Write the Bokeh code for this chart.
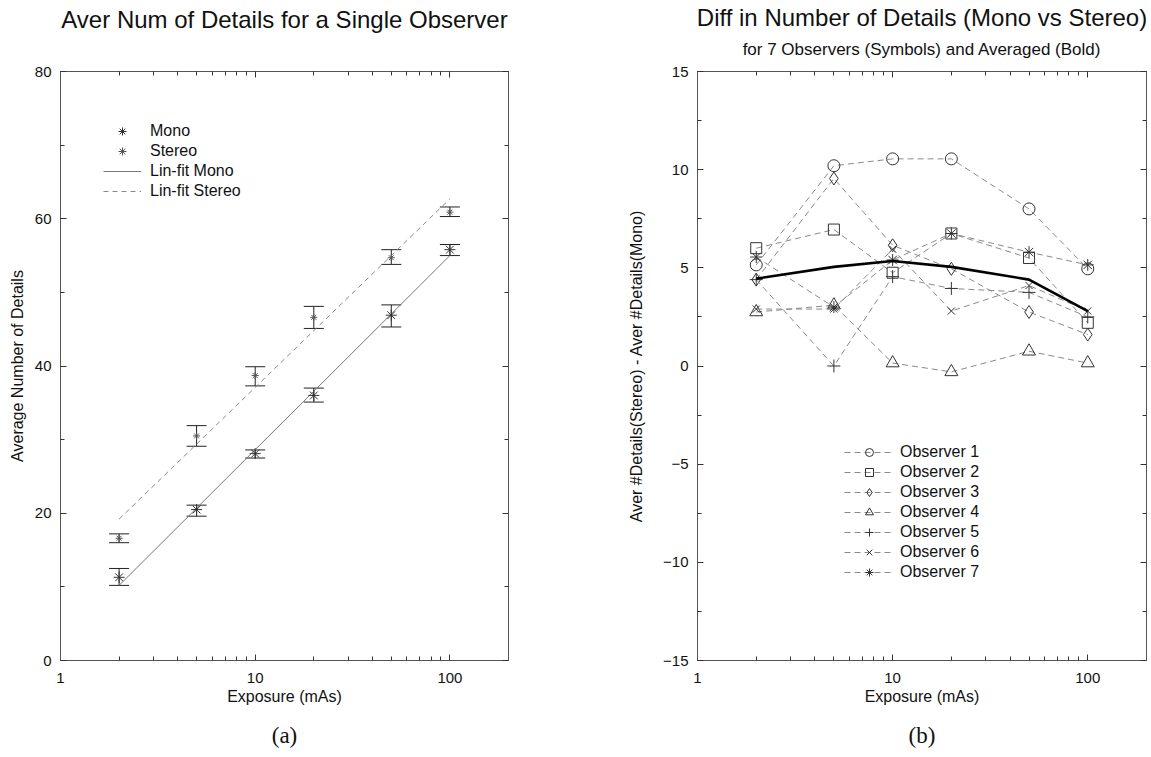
from bokeh.plotting import figure
from bokeh.layouts import row
from bokeh.models import (ColumnDataSource, Whisker, Legend, LegendItem,
                          FixedTicker, LogAxis, LinearAxis, BasicTickFormatter,
                          Range1d, TeeHead)
from bokeh.embed import file_html
from bokeh.resources import INLINE

# ---------------- data ----------------
exposure = [2, 5, 10, 20, 50, 100]

mono_mean = [11.3, 20.5, 28.1, 36.0, 46.9, 55.8]
mono_low = [10.2, 19.6, 27.5, 35.1, 45.3, 55.0]
mono_high = [12.5, 21.1, 28.6, 37.0, 48.3, 56.5]

stereo_mean = [16.6, 30.5, 38.7, 46.6, 54.7, 60.9]
stereo_low = [16.0, 29.1, 37.3, 45.1, 53.8, 60.3]
stereo_high = [17.2, 31.9, 39.9, 48.1, 55.8, 61.6]

fit_x = [2, 100]
mono_fit = [10.2, 55.0]
stereo_fit = [19.2, 62.7]

observer_names = ["Observer 1", "Observer 2", "Observer 3", "Observer 4",
                  "Observer 5", "Observer 6", "Observer 7"]
obs1 = [5.15, 10.2, 10.55, 10.55, 8.0, 4.95]
obs2 = [6.0, 6.95, 4.75, 6.75, 5.5, 2.2]
obs3 = [4.4, 9.55, 6.15, 4.95, 2.75, 1.6]
obs4 = [2.75, 3.1, 0.15, -0.3, 0.75, 0.15]
obs5 = [4.4, 0.0, 4.55, 3.95, 3.75, 2.5]
obs6 = [2.9, 2.9, 5.95, 2.8, 4.1, 2.8]
obs7 = [5.55, 3.0, 5.4, 6.75, 5.8, 5.15]
averaged = [4.45, 5.05, 5.35, 5.05, 4.4, 2.8]

x_major_ticks = [1, 10, 100]
x_minor_ticks = [2, 3, 4, 5, 6, 7, 8, 9, 20, 30, 40, 50, 60, 70, 80, 90]
left_y_ticks = [0, 20, 40, 60, 80]
left_y_minor = [10, 30, 50, 70]
right_y_ticks = [-15, -10, -5, 0, 5, 10, 15]
right_y_minor = [-12.5, -7.5, -2.5, 2.5, 7.5, 12.5]

FONT = "Liberation Sans"
AX = "#555555"
H = 757


def style_axis(ax, show_labels=True):
    ax.axis_line_color = AX
    ax.major_tick_line_color = "#333333"
    ax.minor_tick_line_color = "#333333"
    ax.major_tick_in = 6
    ax.major_tick_out = 0
    ax.minor_tick_in = 4
    ax.minor_tick_out = 0
    ax.major_label_text_font = FONT
    ax.axis_label_text_font = FONT
    ax.axis_label_text_font_style = "normal"
    ax.axis_label_text_font_size = "16px"
    ax.axis_label_text_color = "#111111"
    if show_labels:
        ax.major_label_text_font_size = "15px"
        ax.major_label_text_color = "#111111"
    else:
        ax.major_label_text_font_size = "1px"
        ax.major_label_text_color = None
        ax.major_label_standoff = 0


def text_axis(text, size, standoff, font=FONT):
    # tick-less axis used only to carry a heading outside the frame
    ax = LogAxis(ticker=FixedTicker(ticks=[]), formatter=BasicTickFormatter(),
                 axis_line_color=None, major_tick_line_color=None,
                 minor_tick_line_color=None, major_label_text_font_size="1px",
                 major_label_standoff=0, major_tick_in=0, major_tick_out=0,
                 minor_tick_in=0, minor_tick_out=0)
    ax.axis_label = text
    ax.axis_label_text_font = font
    ax.axis_label_text_font_size = size
    ax.axis_label_text_font_style = "normal"
    ax.axis_label_text_color = "#111111"
    ax.axis_label_standoff = standoff
    return ax


def make_fig(yr, width, left, right, yt, yminor):
    p = figure(x_axis_type="log", x_range=Range1d(1, 200), y_range=yr,
               width=width, height=H, output_backend="svg",
               toolbar_location=None, title=None,
               min_border_left=left, min_border_right=right,
               min_border_top=70, min_border_bottom=H - 660)
    p.grid.visible = False
    p.outline_line_color = AX
    p.background_fill_color = "white"
    p.border_fill_color = "white"
    xt = FixedTicker(ticks=x_major_ticks, minor_ticks=x_minor_ticks)
    ytk = FixedTicker(ticks=yt, minor_ticks=yminor)
    p.xaxis.ticker = xt
    p.xaxis.formatter = BasicTickFormatter()
    p.yaxis.ticker = ytk
    style_axis(p.xaxis[0])
    style_axis(p.yaxis[0])
    p.xaxis.major_label_standoff = 12
    p.xaxis.axis_label = "Exposure (mAs)"
    p.xaxis.axis_label_standoff = 2
    top = LogAxis(ticker=xt, formatter=BasicTickFormatter())
    style_axis(top, False)
    p.add_layout(top, "above")
    rgt = LinearAxis(ticker=ytk)
    style_axis(rgt, False)
    p.add_layout(rgt, "right")
    return p, top


# ---------------- left chart ----------------
p1, top1 = make_fig(Range1d(0, 80), 600, 60, 92, left_y_ticks, left_y_minor)
p1.yaxis[0].axis_label = "Average Number of Details"
p1.yaxis[0].major_label_standoff = 9
p1.yaxis[0].axis_label_standoff = 6

top1.axis_label = "Aver Num of Details for a Single Observer"
top1.axis_label_text_font_size = "24px"
top1.axis_label_standoff = 39

r_fm = p1.line(fit_x, mono_fit, line_color="#777777", line_width=1)
r_fs = p1.line(fit_x, stereo_fit, line_color="#888888", line_width=1, line_dash="5 4")

src_m = ColumnDataSource(dict(x=exposure, y=mono_mean, lo=mono_low, hi=mono_high))
src_s = ColumnDataSource(dict(x=exposure, y=stereo_mean, lo=stereo_low, hi=stereo_high))
for src in (src_m, src_s):
    p1.add_layout(Whisker(source=src, base="x", upper="hi", lower="lo",
                          line_color="#222222", line_width=1,
                          upper_head=TeeHead(size=20, line_color="#222222", line_width=1),
                          lower_head=TeeHead(size=20, line_color="#222222", line_width=1)))
r_m = p1.scatter("x", "y", source=src_m, marker="asterisk", size=11,
                 line_color="#333333", line_width=1)
r_s = p1.scatter("x", "y", source=src_s, marker="asterisk", size=7,
                 line_color="#555555", line_width=1)

leg1 = Legend(items=[LegendItem(label="Mono", renderers=[r_m]),
                     LegendItem(label="Stereo", renderers=[r_s]),
                     LegendItem(label="Lin-fit Mono", renderers=[r_fm]),
                     LegendItem(label="Lin-fit Stereo", renderers=[r_fs])],
              location=(43, 459), glyph_width=38, glyph_height=20, label_height=20,
              spacing=0, padding=0, margin=0, label_standoff=9,
              border_line_color=None, background_fill_alpha=0,
              label_text_font=FONT, label_text_font_size="16px",
              label_text_color="#111111")
p1.add_layout(leg1)

p1.add_layout(text_axis("(a)", "23px", 15, "Liberation Serif"), "below")

# ---------------- right chart ----------------
p2, top2 = make_fig(Range1d(-15, 15), 550, 97, 4, right_y_ticks, right_y_minor)
p2.yaxis[0].axis_label = "Aver #Details(Stereo) - Aver #Details(Mono)"
p2.yaxis[0].major_label_standoff = 9
p2.yaxis[0].axis_label_standoff = 15

top2.axis_label = "for 7 Observers (Symbols) and Averaged (Bold)"
top2.axis_label_text_font_size = "17px"
top2.axis_label_standoff = 13
p2.add_layout(text_axis("Diff in Number of Details (Mono vs Stereo)", "24px", 6), "above")

series = [obs1, obs2, obs3, obs4, obs5, obs6, obs7]
markers = ["circle", "square", "diamond", "triangle", "cross", "x", "asterisk"]
msizes = [12, 11, 13, 13, 13, 10, 12]
items = []
for name, vals, mk, ms in zip(observer_names, series, markers, msizes):
    src = ColumnDataSource(dict(x=exposure, y=vals))
    rl = p2.line("x", "y", source=src, line_color="#8a8a8a", line_width=1, line_dash="6 4")
    rs = p2.scatter("x", "y", source=src, marker=mk, size=ms, fill_color=None,
                    line_color="#333333", line_width=1)
    items.append(LegendItem(label=name, renderers=[rl, rs]))

p2.line(exposure, averaged, line_color="#000000", line_width=2.6)

leg2 = Legend(items=items, location=(147, 78), glyph_width=50, glyph_height=20,
              label_height=20, spacing=0, padding=0, margin=0, label_standoff=6,
              border_line_color=None, background_fill_alpha=0,
              label_text_font=FONT, label_text_font_size="16px",
              label_text_color="#111111")
p2.add_layout(leg2)

p2.add_layout(text_axis("(b)", "23px", 15, "Liberation Serif"), "below")

layout = row(p1, p2)
open("out.html", "w").write(file_html(layout, INLINE))
